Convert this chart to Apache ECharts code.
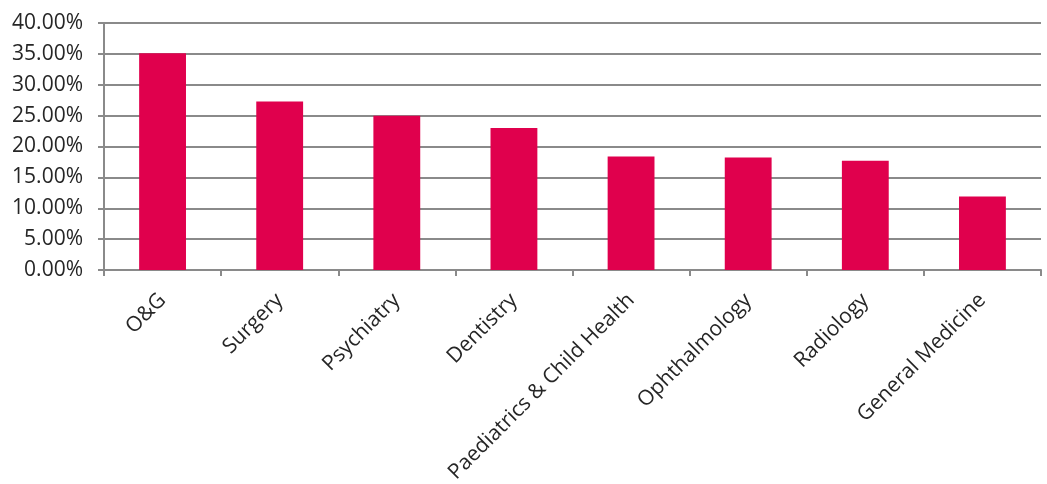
<!DOCTYPE html>
<html>
<head>
<meta charset="utf-8">
<script src="https://cdn.jsdelivr.net/npm/echarts@6/dist/echarts.min.js"></script>
<style>
  html, body { margin: 0; padding: 0; background: #fff; }
  #chart { width: 1047px; height: 484px; }
</style>
</head>
<body>
<div id="chart"></div>
<script>
// Specialties and their share (%)
const categories = ['O&G', 'Surgery', 'Psychiatry', 'Dentistry', 'Paediatrics & Child Health', 'Ophthalmology', 'Radiology', 'General Medicine'];
const shares = [35.1, 27.3, 25.0, 23.0, 18.4, 18.2, 17.7, 11.9];
const yTicks = { min: 0, max: 40, step: 5 };

const gridColor = '#8a8a8a';
const textColor = '#262626';
const fontFamily = '"Open Sans", "Noto Sans", sans-serif';

const chart = echarts.init(document.getElementById('chart'), null, { renderer: 'canvas' });
chart.setOption({
  animation: false,
  grid: { left: 104, right: 6, top: 23, bottom: 214, containLabel: false, outerBoundsMode: 'none' },
  xAxis: {
    type: 'category',
    data: categories,
    boundaryGap: true,
    axisLine: { show: true, lineStyle: { color: gridColor, width: 2 } },
    axisTick: { show: true, length: 6, alignWithLabel: false, lineStyle: { color: gridColor, width: 2 } },
    axisLabel: {
      rotate: 45,
      interval: 0,
      margin: 27,
      color: textColor,
      fontFamily: fontFamily,
      fontSize: 21
    },
    splitLine: { show: false }
  },
  yAxis: {
    type: 'value',
    min: yTicks.min,
    max: yTicks.max,
    interval: yTicks.step,
    axisLine: { show: true, lineStyle: { color: gridColor, width: 2 } },
    axisTick: { show: true, length: 6, lineStyle: { color: gridColor, width: 2 } },
    axisLabel: {
      margin: 21,
      color: textColor,
      fontFamily: fontFamily,
      fontSize: 21,
      formatter: v => v.toFixed(2) + '%'
    },
    splitLine: { show: true, lineStyle: { color: gridColor, width: 2 } }
  },
  series: [{
    type: 'bar',
    data: shares,
    barWidth: '40%',
    itemStyle: { color: '#e0004d' }
  }]
});
</script>
</body>
</html>
